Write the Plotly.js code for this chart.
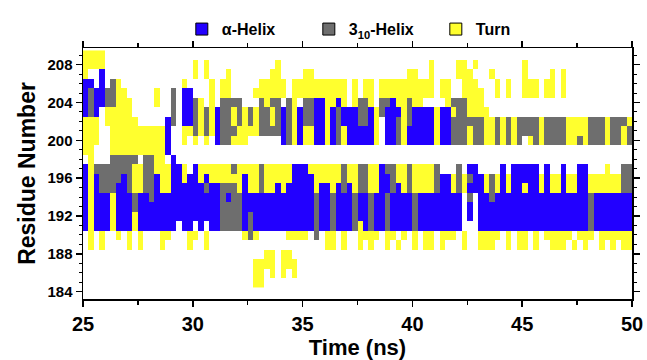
<!DOCTYPE html>
<html>
<head>
<meta charset="utf-8">
<script src="https://cdn.plot.ly/plotly-3.0.1.min.js"></script>
<style>
  html, body { margin: 0; padding: 0; background: #ffffff; }
  #chart { width: 647px; height: 360px; }
</style>
</head>
<body>
<div id="chart"></div>
<script>
// ---------------- DATA ----------------
// Time axis: 25–50 ns, read in bins of 0.25 ns (100 bins per residue row)
const timeStart = 25;
const timeEnd = 50;
const binWidth = 0.25;

// Residues (rows, top to bottom)
const residues = [209, 208, 207, 206, 205, 204, 203, 202, 201, 200, 199, 198, 197,
                  196, 195, 194, 193, 192, 191, 190, 189, 188, 187, 186, 185];

// State legend: '.' = none, 'A' = alpha-helix, 'G' = 3-10 helix, 'T' = turn
const stateCodes = { '.': null, 'A': 1, 'G': 2, 'T': 3 };
const stateNames = ['\u03B1-Helix', '3<sub>10</sub>-Helix', 'Turn'];

// Secondary structure per residue over time (spaces only separate blocks for readability)
const ssRows = [
  /*209*/ "TTTT........ ............. ............ ............ ............. ............ ............. .............",
  /*208*/ "TTTT........ ........T.T.. ..........T. ............ ............. .T....TT.T.. ......T...... .............",
  /*207*/ "T..A........ ........T.T.. .T.......TT. ...TT....... ..........TT. .T....TTT... T.....T....T. T............",
  /*206*/ "AA.A.GT..... ......T....T. TT.....TTTTT .TTTTTTTTTT. T.TT.TTTTTTTT TT.TT..TTT.. .T.T..TTT.TT. T............",
  /*205*/ "AGAAGGTT.... .T..G.AA...T. TT....TTTTTT .TTTTTTTTTT. T.TT.TTTTTTTT TT.TT..TTTT. .T.T..TTT.TT. T............",
  /*204*/ "AGAAGGTTT... .T..G.AAGT.T. GGGG...GTGG. GT.GGAATTAT. TGGT.GGATTGTT ....TGGGTTT. ............. .............",
  /*203*/ "AGA.TTTTT... ....G.AAGTGTA GGTGTGTGGTGA GTAGGAATAGAA AGGATGAAATGAA AATAATGGTTTT ............. .............",
  /*202*/ "TTT.TTTTTT.. ...AG.AAGTGTA GGTGTGTGGTGA GTAGGAATAGAA AGGAT.AAGTGAA AATAAGGGGGGT TGTGTGGGGTGGG GTTTTGGGTGGGT",
  /*201*/ "TTT..TTTTTTT TTTA..TTGTGTA GGGTTTTGGGGA GTATTAATAGTA AAAAT.AAGTAAA AATAAGGGTGGT TGTGTGGGGTGGG GTTTTGGGTGGTG",
  /*200*/ "TTT..TTTTTTT TTTA..T.T.T.A GGTTT......A GTATTAATAGTA AAAAT.AAGTAAA AATAAGGGTGGT TGTGTG.TGTGGG GTTGTGGGTGGTG",
  /*199*/ "TT...TTTTTTT TTTA......... ............ ............ ............. ............ ............. .............",
  /*198*/ ".T...GGGGG.G GTT.A........ ............ ............ ............. ............ ............. .............",
  /*197*/ "ATGGGGGGGTTG GTTTAAT.ATTTT TTGTTTTGTTTT TAAATTTTTTGT TGGTTAGGTTGTT TTG...G.AA.. ..A.AAAAA.A.. A..AA...T..GG",
  /*196*/ "ATAGGGGAGTTG GATTAATAATATT TTTTATTGTTTT TAAAATTTTTGT TGGTTAAGTTGTT TTGAATGTGAAT GTATAAAAATATT ATTAATTTTTTGG",
  /*195*/ "ATAGGGAAGTTG GATTAAAAAAGAA GGGTATTGTTAT AAAAATAATAGA TGGTTAAGATGTT TTGAATGTAAAT GTATAATAATATT ATTAATTTTTTGG",
  /*194*/ "ATAAATAAAGAA GAAAAAAAAAAAA GAGGAAAAAAAA AAAAAGAAGAAA GAAGAAGAAAAGA AAAAAAA.G.AA GAAAAAAAAAAAA AAAAAGAAAAAAA",
  /*193*/ "ATAAATAAAGAA AAAAAAAAAAAAA GGGGAAAAAAAA AAAAAGAAGAAA GAAGAAGAAAAGA AAAAAAA.A.AA AAAAAAAAAAAAA AAAAAGAAAAAAA",
  /*192*/ "ATAAATAAATAA AAAAAAAAAAAAA GGGGAGAAAAAA AAAAAGAAGAAA GAAGAAGAAAAGA AAAAAAA.A.AA AAAAAAAAAAAAA AAAAAGAAAAAAA",
  /*191*/ "ATAAATAAATAA AAAAA.AA.A.AA GGGGAGAAAAAA AAAAAGAAGAAA GTAGAAGAAAAGA AAAAAAA...AA AAAAAAAAAAAAA AAAAAGAAAAAAA",
  /*190*/ ".T.T..T.T.T. ..TT...TT.T.. ....TGT..... TTTT.G.TT.T. .TTTT.TT.T.T. TT.TTT.T..TT TT.T.TT.T.TTT TT.TTT.TTTTTT",
  /*189*/ ".T.T....T.T. ..T....T..T.. ............ .......TT.T. .T.T..T.T..T. TT.T...T..TT T..T.TT.T..TT T.T.T..T.T.TT",
  /*188*/ "............ ............. ........TT.T T........... ............. ............ ............. .............",
  /*187*/ "............ ............. ......TTTT.T TT.......... ............. ............ ............. .............",
  /*186*/ "............ ............. ......TT.T.T .T.......... ............. ............ ............. .............",
  /*185*/ "............ ............. ......TT.... ............ ............. ............ ............. ............."
];

// ---------------- BUILD ----------------
const nBins = Math.round((timeEnd - timeStart) / binWidth);
const timeCenters = [];
for (let i = 0; i < nBins; i++) timeCenters.push(timeStart + (i + 0.5) * binWidth);

const zMatrix = ssRows.map(function (row) {
  const chars = row.replace(/\s/g, '').split('');
  const out = [];
  for (let i = 0; i < nBins; i++) {
    const c = chars[i];
    out.push(c === undefined ? null : stateCodes[c]);
  }
  return out;
});

const colBlue = '#2200ff';
const colGray = '#6e6e6e';
const colYellow = '#ffff2e';
const stateColors = [colBlue, colGray, colYellow];

const traces = [];
traces.push({
  type: 'heatmap',
  x: timeCenters,
  y: residues,
  z: zMatrix,
  zmin: 0.5,
  zmax: 3.5,
  colorscale: [
    [0, colBlue], [1 / 3, colBlue],
    [1 / 3, colGray], [2 / 3, colGray],
    [2 / 3, colYellow], [1, colYellow]
  ],
  showscale: false,
  hoverongaps: false,
  showlegend: false,
  xgap: 0, ygap: 0
});

stateNames.forEach(function (name, i) {
  traces.push({
    type: 'scatter',
    mode: 'markers',
    x: [null], y: [null],
    name: name,
    marker: { symbol: 'square', size: 12, color: stateColors[i], line: { color: '#000', width: 1 } },
    hoverinfo: 'skip',
    showlegend: true
  });
});

const fontFam = '"Liberation Sans", Arial, Helvetica, sans-serif';

const layout = {
  width: 647,
  height: 360,
  margin: { l: 83, r: 15, t: 46, b: 61, pad: 0 },
  paper_bgcolor: '#ffffff',
  plot_bgcolor: '#ffffff',
  font: { family: fontFam, color: '#000', weight: 700 },
  showlegend: true,
  legend: {
    orientation: 'h',
    x: 0.18, xanchor: 'left',
    y: 1.075, yanchor: 'middle',
    font: { family: fontFam, size: 16, color: '#000', weight: 700 },
    entrywidth: 82,
    entrywidthmode: 'pixels',
    itemwidth: 30,
    bgcolor: 'rgba(0,0,0,0)',
    borderwidth: 0
  },
  xaxis: {
    range: [timeStart, timeEnd],
    tick0: 25, dtick: 5,
    ticks: 'outside', ticklen: 6, tickwidth: 1.5, tickcolor: '#000',
    minor: { tick0: 25, dtick: 2.5, ticks: 'outside', ticklen: 4, tickwidth: 1.5, tickcolor: '#000' },
    showline: true, linecolor: '#000', linewidth: 1.5, mirror: 'allticks',
    showgrid: false, zeroline: false,
    tickfont: { family: fontFam, size: 20, color: '#000', weight: 700 },
    title: { text: 'Time (ns)', font: { family: fontFam, size: 22, color: '#000', weight: 700 }, standoff: 8 }
  },
  yaxis: {
    range: [183.23, 209.76],
    tick0: 184, dtick: 4,
    ticks: 'outside', ticklen: 6, tickwidth: 1.5, tickcolor: '#000',
    minor: { tick0: 184, dtick: 1, ticks: 'outside', ticklen: 3, tickwidth: 1, tickcolor: '#000' },
    showline: true, linecolor: '#000', linewidth: 1.5, mirror: 'allticks',
    showgrid: false, zeroline: false,
    tickfont: { family: fontFam, size: 15, color: '#000', weight: 700 },
    title: { text: 'Residue Number', font: { family: fontFam, size: 23, color: '#000', weight: 700 }, standoff: 5 }
  }
};

Plotly.newPlot('chart', traces, layout, { displayModeBar: false, staticPlot: true });
</script>
</body>
</html>
